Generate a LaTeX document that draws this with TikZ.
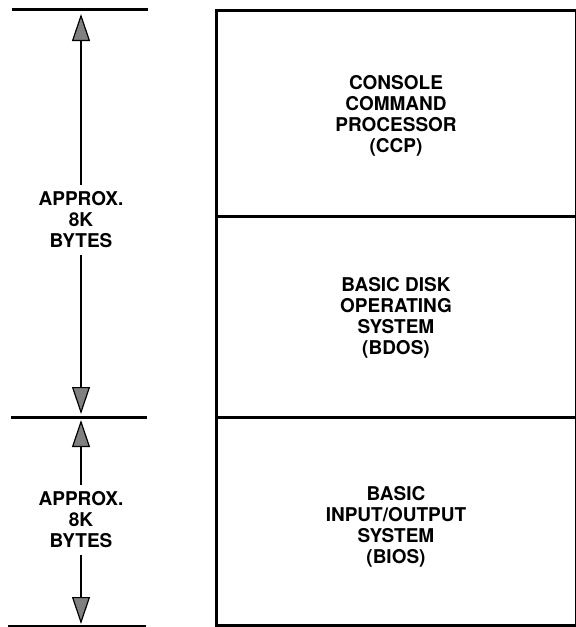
\documentclass[tikz,border=0pt]{standalone}
\usepackage{fontspec}
\setmainfont{TeX Gyre Heros}
\usetikzlibrary{arrows.meta}
\begin{document}
\begin{tikzpicture}[x=1pt,y=-1pt,
  lbl/.style={font=\bfseries\fontsize{19}{21}\selectfont, align=center, inner sep=0pt},
  side/.style={lbl, inner xsep=0pt, inner ysep=7pt},
  seg/.style={draw, line width=3pt, minimum width=360pt, anchor=north west, inner sep=0pt},
  tick/.style={line width=3pt},
  arr/.style={line width=1.5pt, -{Triangle[length=27pt,width=18pt,fill=gray,line width=1.2pt]}}]
\useasboundingbox (0,0) rectangle (576,627);
% memory blocks
\node[seg, minimum height=206pt] (ccp) at (215,9) {};
\node[seg, minimum height=201pt] (bdos) at (215,215) {};
\node[seg, minimum height=208pt] (bios) at (215,416) {};
\node[lbl] (ccpt) at (396,116) {CONSOLE\\COMMAND\\PROCESSOR\\(CCP)};
\node[lbl] (bdost) at (396,318) {BASIC DISK\\OPERATING\\SYSTEM\\(BDOS)};
\node[lbl] (biost) at (396,527) {BASIC\\INPUT/OUTPUT\\SYSTEM\\(BIOS)};
% ticks
\coordinate (t1a) at (12,9);   \coordinate (t1b) at (148,9);
\coordinate (t2a) at (11,417); \coordinate (t2b) at (147,417);
\coordinate (t3a) at (8,626);  \coordinate (t3b) at (146,626);
\draw[tick] (t1a) -- (t1b);
\draw[tick] (t2a) -- (t2b);
\draw[tick] (t3a) -- (t3b);
% size labels
\node[side] (s1) at (81,220) {APPROX.\\8K\\BYTES};
\node[side] (s2) at (81,520) {APPROX.\\8K\\BYTES};
\coordinate (e1) at (81,14);
\coordinate (e2) at (81,414);
\coordinate (e3) at (81,420);
\coordinate (e4) at (81,624);
\draw[arr] (s1) -- (e1);
\draw[arr] (s1) -- (e2);
\draw[arr] (s2) -- (e3);
\draw[arr] (s2) -- (e4);
\end{tikzpicture}
\end{document}
